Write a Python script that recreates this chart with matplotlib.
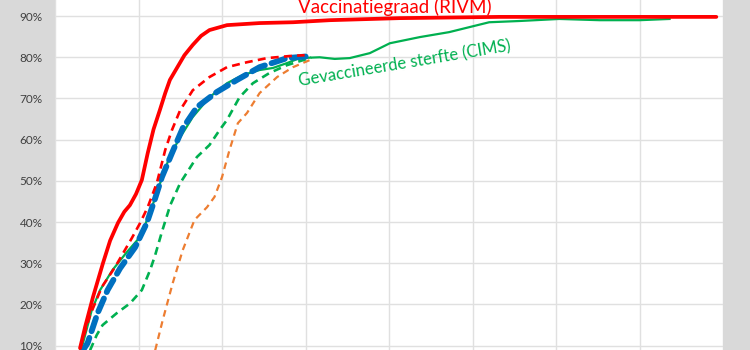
import numpy as np
import matplotlib
matplotlib.use("Agg")
import matplotlib.pyplot as plt
from matplotlib.ticker import FuncFormatter

plt.rcParams['font.family'] = ['Lato', 'DejaVu Sans']

# vaccinatiegraad (RIVM), solid red
rivm_x = [0.30, 0.36, 0.455, 0.574, 0.66, 0.754, 0.83, 0.897, 0.97, 1.04, 1.11, 1.18, 1.256,
          1.32, 1.376, 1.46, 1.55, 1.65, 1.75, 1.85, 2.06, 2.45, 2.85, 3.29, 4.13, 5.32, 7.92]
rivm_y = [9.4, 14.5, 21.8, 30.0, 35.5, 39.8, 42.5, 44.1, 46.8, 50.2, 56.7, 62.5, 67.2,
          71.3, 74.5, 77.4, 80.5, 83.0, 85.2, 86.6, 87.8, 88.3, 88.5, 89.0, 89.5, 89.8, 89.8]

# gevaccineerde sterfte (CIMS), solid green
cims_x = [0.30, 0.335, 0.44, 0.54, 0.69, 0.86, 1.02, 1.14, 1.26, 1.38, 1.50, 1.65, 1.85,
          2.06, 2.25, 2.45, 2.61, 2.78, 2.93, 3.17, 3.35, 3.53, 3.77, 4.01, 4.37, 4.72,
          4.96, 5.20, 5.56, 6.04, 6.52, 7.0, 7.36]
cims_y = [8.9, 10.6, 18.6, 23.5, 28.4, 32.7, 36.4, 42.4, 49.5, 56.3, 60.6, 65.5, 70.3,
          73.7, 75.7, 76.9, 77.4, 78.6, 79.8, 80.0, 79.6, 79.8, 81.0, 83.4, 84.9, 86.1,
          87.3, 88.5, 88.8, 89.3, 89.0, 89.0, 89.3]

# red dashed
rd_x = [0.30, 0.42, 0.56, 0.72, 0.92, 1.02, 1.11, 1.22, 1.32, 1.40, 1.50, 1.65, 1.85,
        2.06, 2.30, 2.54, 2.81, 2.99]
rd_y = [9.4, 17.4, 24.2, 29.1, 36.1, 39.8, 43.6, 49.5, 57.5, 62.3, 67.2, 72.0, 75.2,
        77.6, 78.8, 79.8, 80.3, 80.5]

# blue thick dashed
bl_x = [0.335, 0.39, 0.51, 0.63, 0.78, 0.96, 1.10, 1.20, 1.28, 1.40, 1.53, 1.70, 1.94,
        2.18, 2.45, 2.78, 3.07]
bl_y = [8.9, 10.6, 17.9, 23.5, 28.8, 33.9, 39.8, 45.8, 50.9, 56.7, 62.8, 67.9, 71.6,
        74.5, 77.6, 79.8, 80.3]

# green dashed
gd_x = [0.42, 0.50, 0.57, 0.74, 0.90, 1.04, 1.14, 1.20, 1.28, 1.38, 1.50, 1.70, 1.85,
        1.97, 2.06, 2.21, 2.37, 2.57, 2.78, 2.97, 3.07]
gd_y = [8.9, 12.6, 15.0, 17.9, 20.3, 23.5, 28.4, 32.0, 37.6, 44.1, 49.5, 55.8, 58.7,
        62.3, 64.8, 70.3, 73.7, 76.2, 78.1, 79.3, 80.0]

# orange dashed
or_x = [1.20, 1.29, 1.41, 1.53, 1.67, 1.82, 1.91, 2.00, 2.09, 2.19, 2.30, 2.45, 2.66,
        2.85, 3.05, 3.09]
or_y = [8.9, 16.2, 25.2, 33.2, 40.5, 43.6, 46.1, 50.9, 57.5, 64.0, 66.5, 71.3, 75.2,
        77.6, 79.3, 79.8]

fig = plt.figure(figsize=(7.5, 3.5), dpi=100, facecolor='#d9d9d9')
ax = fig.add_axes([55/750, 0, 668/750, 1])
ax.set_facecolor('white')

ax.plot(or_x, or_y, color='#ed7d31', lw=1.6, dashes=(3, 2.2), zorder=3)
ax.plot(gd_x, gd_y, color='#00b050', lw=1.9, dashes=(3, 2), zorder=3)
ax.plot(cims_x, cims_y, color='#00b050', lw=1.6, zorder=4)
ax.plot(bl_x, bl_y, color='#0070c0', lw=4.2, dashes=(2.4, 1.2), zorder=5,
        solid_capstyle='round', dash_capstyle='round')
ax.plot(rd_x, rd_y, color='#ff0000', lw=1.9, dashes=(3, 2), zorder=6)
ax.plot(rivm_x, rivm_y, color='#ff0000', lw=2.7, zorder=7, solid_capstyle='round')

ax.text(4.07, 90.75, 'Vaccinatiegraad (RIVM)', color='#ff0000', fontsize=13.5,
        ha='center', va='baseline')
ax.text(2.93, 72.8, 'Gevaccineerde sterfte (CIMS)', color='#00b050', fontsize=12,
        ha='left', va='baseline', rotation=9.5, rotation_mode='anchor')

ax.set_xlim(0, 8)
ax.set_ylim(8.95, 93.9)
ax.set_xticks(range(0, 9))
ax.set_yticks(range(10, 100, 10))
ax.yaxis.set_major_formatter(FuncFormatter(lambda v, p: '%d%%' % v))
ax.tick_params(axis='x', length=0, labelbottom=False)
ax.tick_params(axis='y', length=0, pad=9, labelsize=8.5, labelcolor='#404040')
ax.grid(True, color='#e0e0e0', lw=1)
ax.set_axisbelow(True)
for s in ax.spines.values():
    s.set_visible(False)

fig.savefig('out.png', dpi=100, facecolor=fig.get_facecolor())
